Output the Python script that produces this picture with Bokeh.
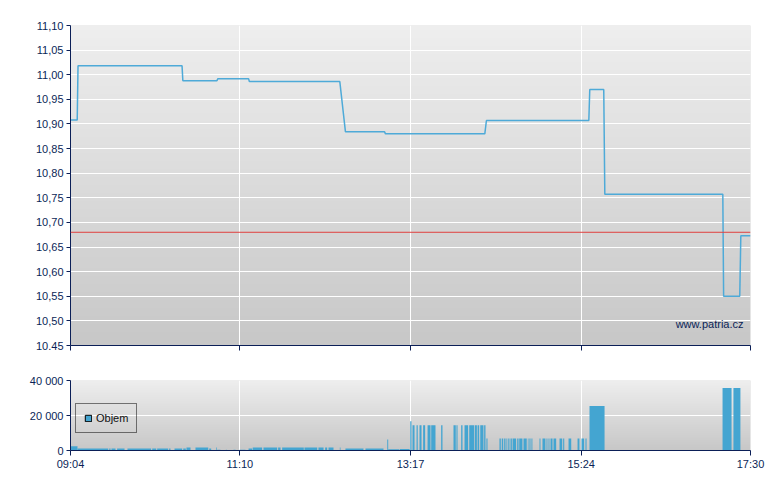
import numpy as np
from bokeh.plotting import figure
from bokeh.layouts import column
from bokeh.models import (Range1d, FixedTicker, Label, Legend, LegendItem, Span,
                          ColumnDataSource)
from bokeh.embed import file_html
from bokeh.resources import INLINE

# ---------------- data ----------------
time_tick_labels = ["09:04", "11:10", "13:17", "15:24", "17:30"]

# price series: minutes after 09:04 and price
price_minutes = [0, 5.0, 5.6, 83.0, 83.6, 109.0, 109.6, 132.5, 133.1, 200.4,
                 204.6, 233.7, 234.4, 308.3, 309.5, 385.7, 386.4, 396.8, 397.6,
                 485.4, 486.0, 498.0, 498.8, 506.0]
price_values = [10.908, 10.908, 11.018, 11.018, 10.988, 10.988, 10.992, 10.992,
                10.986, 10.986, 10.884, 10.884, 10.880, 10.880, 10.907, 10.907,
                10.970, 10.970, 10.757, 10.757, 10.550, 10.550, 10.673, 10.673]
reference_price = 10.68

price_tick_values = [10.45, 10.50, 10.55, 10.60, 10.65, 10.70, 10.75, 10.80,
                     10.85, 10.90, 10.95, 11.00, 11.05, 11.10]
price_tick_labels = ["10.45", "10,50", "10,55", "10,60", "10,65", "10,70", "10,75",
                     "10,80", "10,85", "10,90", "10,95", "11,00", "11,05", "11,10"]

# volume bars: start / end (minutes after 09:04) and volume
vol_start = [0.3, 5.2, 28.8, 30.5, 34.7, 42.4, 60.8, 64.5, 73.4, 77.4, 83.9, 86.3,
             93.0, 103.2, 108.4, 109.2, 115.6, 121.3, 125.8, 132.5, 135.6, 143.6,
             154.5, 157.5, 174.1, 184.5, 189.5, 192.0, 200.4, 204.6, 219.5, 235.7,
             236.4, 245.2, 252.8,
             254.5, 257.5, 259.7, 262.4, 265.7, 268.4, 275.8, 285.0, 287.2, 290.7,
             293.2, 296.7, 300.9, 302.9, 304.9, 307.8, 309.5,
             319.2, 320.9, 322.7, 324.4, 325.4, 326.7, 327.9, 329.1, 332.4, 333.9,
             337.1, 340.3, 341.5, 343.0, 349.0, 351.2, 354.2, 355.7, 357.2, 359.4,
             363.9, 366.6, 370.6, 377.3, 380.2, 383.2,
             386.2, 485.2, 493.3, 498.5]
vol_end = [5.2, 28.1, 29.8, 33.5, 40.2, 60.0, 63.8, 72.7, 74.4, 83.1, 85.8, 89.3,
           102.5, 104.7, 108.9, 111.6, 116.3, 122.8, 130.2, 135.2, 142.6, 153.8,
           156.3, 173.6, 183.6, 188.3, 191.0, 195.7, 200.9, 218.0, 232.9, 236.4,
           244.8, 252.3, 253.7,
           256.0, 258.4, 261.2, 263.9, 267.9, 271.6, 276.8, 286.7, 288.0, 291.7,
           295.9, 300.4, 302.4, 304.1, 307.3, 308.8, 310.3,
           320.2, 322.0, 323.7, 324.9, 326.1, 327.4, 328.7, 331.6, 333.4, 336.3,
           339.5, 340.8, 342.3, 343.7, 349.7, 353.4, 354.9, 356.4, 358.7, 361.4,
           365.9, 367.4, 372.6, 378.7, 382.2, 384.0,
           397.4, 491.9, 498.5, 506.0]
vol_value = [2500, 1150, 1150, 1150, 1150, 1150, 1150, 1150, 1150, 1150, 1150, 1700,
             1700, 1150, 1700, 500, 500, 500, 500, 1150, 1700, 1700,
             1700, 1700, 1700, 1700, 1700, 1700, 1700, 1150, 1150, 6300,
             750, 800, 16700,
             14400, 14400, 14400, 14400, 14400, 14400, 14400, 14400, 14400, 14400,
             14400, 14400, 14400, 14400, 14400, 14400, 6900,
             6900, 6900, 6900, 6900, 6900, 6900, 6900, 6900, 6900, 6900,
             6900, 6900, 6900, 6900, 6900, 6900, 6900, 6900, 6900, 6900,
             6900, 6900, 6900, 6900, 6900, 6900,
             25400, 35700, 35700, 300]
vol_tick_values = [0, 20000, 40000]
vol_tick_labels = ["0", "20 000", "40 000"]
legend_label = "Objem"
watermark = "www.patria.cz"

# ---------------- styling ----------------
NAVY = "#0b1f57"
BLUE = "#44a5d1"
LINE_BLUE = "#4eaad8"
FONT = "Liberation Sans"


def to_min(s):
    h, m = s.split(":")
    return int(h) * 60 + int(m)


t0 = to_min(time_tick_labels[0])
time_ticks = [to_min(s) - t0 for s in time_tick_labels]
x_start, x_end = time_ticks[0], time_ticks[-1]


def add_gradient(p, y0, y1):
    n = 120
    img = np.empty((n, 1), dtype=np.uint32)
    v = img.view(dtype=np.uint8).reshape((n, 1, 4))
    t = np.linspace(0.0, 1.0, n)
    c = np.round(199 + t * (238 - 199)).astype(np.uint8)
    v[:, 0, 0] = c
    v[:, 0, 1] = c
    v[:, 0, 2] = c
    v[:, 0, 3] = 255
    p.image_rgba(image=[img], x=x_start, y=y0, dw=x_end - x_start, dh=y1 - y0,
                 level="image")


def style(p):
    p.outline_line_color = None
    p.background_fill_color = "#dddddd"
    p.border_fill_color = "white"
    for ax in (p.xaxis[0], p.yaxis[0]):
        ax.axis_line_color = NAVY
        ax.axis_line_width = 1
        ax.major_tick_line_color = NAVY
        ax.minor_tick_line_color = None
        ax.major_tick_in = 0
        ax.major_label_text_font = FONT
        ax.major_label_text_font_size = "11px"
        ax.major_label_text_color = NAVY
    p.yaxis[0].major_tick_out = 4
    p.yaxis[0].major_label_standoff = 3
    p.xaxis[0].major_tick_out = 5
    p.xaxis[0].ticker = FixedTicker(ticks=time_ticks)
    p.xgrid.grid_line_color = "white"
    p.ygrid.grid_line_color = "white"
    p.xgrid.grid_line_width = 1
    p.ygrid.grid_line_width = 1


# ---------------- price chart ----------------
p1 = figure(width=780, height=362, output_backend="svg", toolbar_location=None,
            x_range=Range1d(x_start, x_end),
            y_range=Range1d(price_tick_values[0], price_tick_values[-1]),
            min_border_left=70, min_border_right=30, min_border_top=25,
            min_border_bottom=17)
style(p1)
add_gradient(p1, price_tick_values[0], price_tick_values[-1])
p1.yaxis[0].ticker = FixedTicker(ticks=price_tick_values)
p1.yaxis[0].major_label_overrides = {v: l for v, l in zip(price_tick_values, price_tick_labels)}
p1.xaxis[0].major_label_overrides = {v: "" for v in time_ticks}
p1.xaxis[0].major_label_text_font_size = "0px"
p1.xaxis[0].major_label_standoff = 0

p1.add_layout(Span(location=reference_price, dimension="width",
                   line_color="#e0403f", line_width=1))
p1.line(price_minutes, price_values, line_color=LINE_BLUE, line_width=1.5)
p1.add_layout(Label(x=x_end, y=price_tick_values[0], text=watermark,
                    x_offset=-7, y_offset=22, text_align="right",
                    text_baseline="middle", text_font=FONT,
                    text_font_size="11px", text_color=NAVY))

# ---------------- volume chart ----------------
p2 = figure(width=780, height=118, output_backend="svg", toolbar_location=None,
            x_range=p1.x_range,
            y_range=Range1d(vol_tick_values[0], vol_tick_values[-1]),
            min_border_left=70, min_border_right=30, min_border_top=18,
            min_border_bottom=30)
style(p2)
add_gradient(p2, vol_tick_values[0], vol_tick_values[-1])
p2.yaxis[0].ticker = FixedTicker(ticks=vol_tick_values)
p2.yaxis[0].major_label_overrides = {v: l for v, l in zip(vol_tick_values, vol_tick_labels)}
p2.xaxis[0].major_label_overrides = {v: l for v, l in zip(time_ticks, time_tick_labels)}
p2.xaxis[0].major_label_standoff = 2

vol_src = ColumnDataSource(dict(left=vol_start, right=vol_end, top=vol_value))
p2.quad(left="left", right="right", bottom=0, top="top", source=vol_src,
        fill_color=BLUE, line_color=None)
# legend swatch: hidden renderer on the same data, drawn only in the legend
swatch = p2.quad(left="left", right="right", bottom=0, top="top", source=vol_src,
                 fill_color=BLUE, line_color="black", line_width=1, visible=False)

legend = Legend(items=[LegendItem(label=legend_label, renderers=[swatch])],
                location=(5, 17), margin=0, padding=8, spacing=0,
                glyph_width=8, glyph_height=8, label_height=12,
                label_standoff=4, label_text_font=FONT,
                label_text_font_size="11px", label_text_color="#111111",
                border_line_color="black", border_line_width=1,
                background_fill_alpha=0, inactive_fill_alpha=0)
p2.add_layout(legend)

layout = column(p1, p2)
open("out.html", "w").write(file_html(layout, INLINE))
